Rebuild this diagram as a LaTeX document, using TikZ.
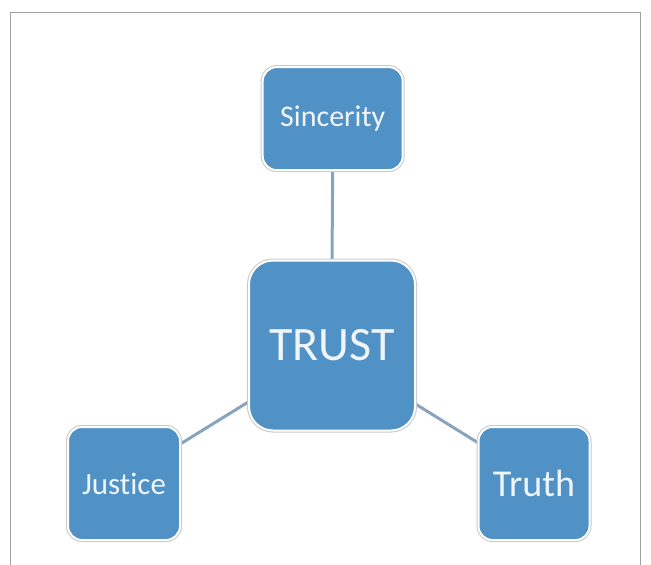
\documentclass[tikz,border=0pt]{standalone}
\usepackage{fontspec}
\setmainfont[Ligatures={NoCommon}]{Carlito}
\usetikzlibrary{backgrounds}
\definecolor{boxblue}{RGB}{80,145,198}
\definecolor{edgegray}{RGB}{200,200,200}
\definecolor{framegray}{RGB}{160,160,160}
\definecolor{linkblue}{RGB}{135,163,192}
\definecolor{textwhite}{RGB}{240,245,250}
\begin{document}
\begin{tikzpicture}[x=1pt,y=-1pt,
  box/.style={rectangle, fill=boxblue, draw=white, line width=2pt,
    preaction={draw=edgegray, line width=4pt},
    text=textwhite, inner sep=0pt, align=center},
  small/.style={box, rounded corners=14pt},
  big/.style={box, rounded corners=24pt},
  link/.style={draw=linkblue, line width=3pt}]
\useasboundingbox (0,0) rectangle (651,565);
\node[big, minimum width=166pt, minimum height=170pt, font=\fontsize{48}{48}\selectfont] (trust) at (332,345.5) {TRUST};
\node[small, minimum width=140pt, minimum height=103pt, font=\fontsize{30}{30}\selectfont] (sinc) at (332.7,118.6) {Sincerity};
\node[small, minimum width=112pt, minimum height=113pt, font=\fontsize{31}{31}\selectfont] (just) at (124,483.5) {Justice};
\node[small, minimum width=111pt, minimum height=113pt, font=\fontsize{38}{38}\selectfont] (truth) at (534,483.5) {Truth};
\begin{scope}[on background layer]
  \clip (0,0) rectangle (651,565);
  \draw[framegray, line width=1pt] (10.5,12) rectangle (640.5,580);
  \draw[link] (sinc.south) -- (trust.north);
  \draw[link] (trust.214) -- (just.35.6);
  \draw[link] (trust.-35) -- (truth.144.2);
\end{scope}
\end{tikzpicture}
\end{document}
